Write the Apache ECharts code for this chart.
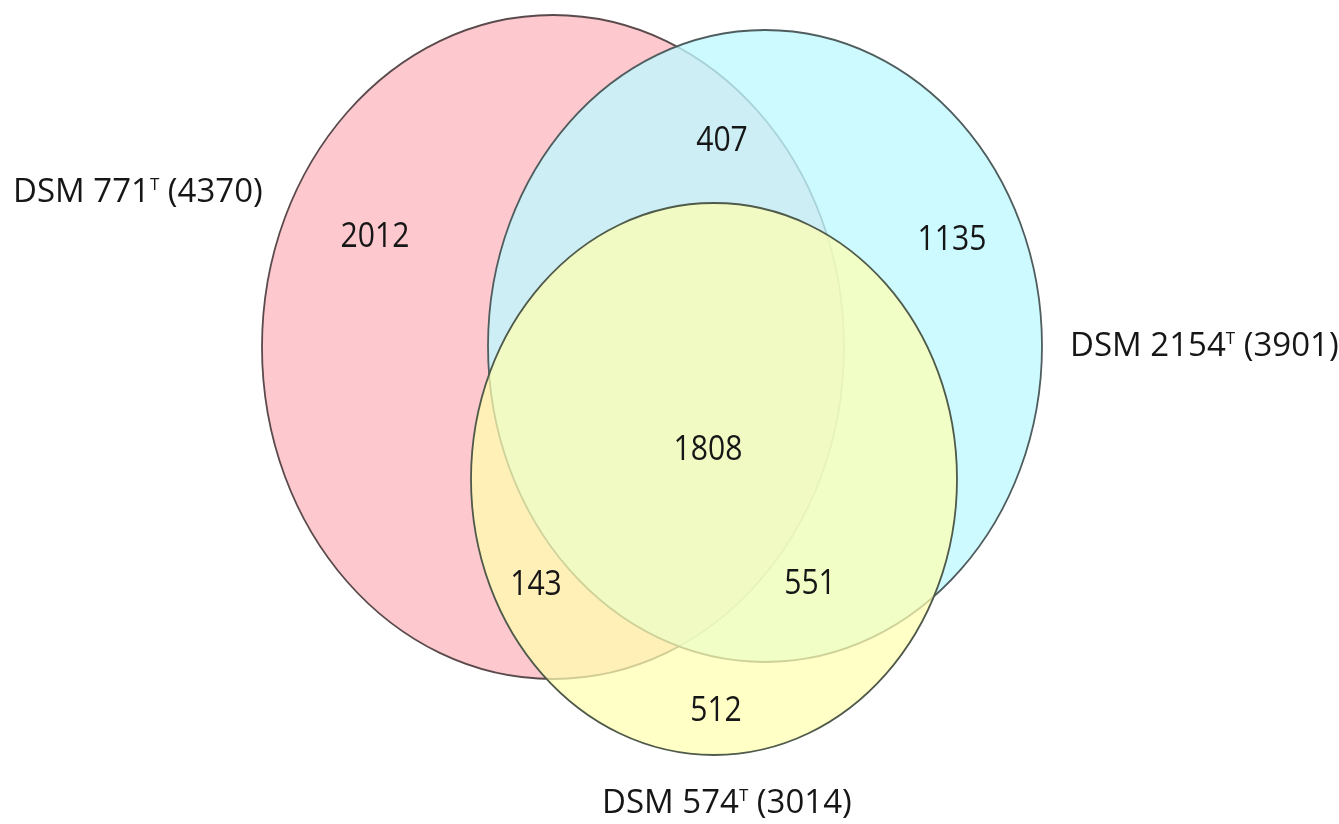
<!DOCTYPE html>
<html>
<head>
<meta charset="utf-8">
<script src="https://cdn.jsdelivr.net/npm/echarts@6/dist/echarts.min.js"></script>
<style>
html,body{margin:0;padding:0;background:#fff;}
#chart{width:1339px;height:824px;}
</style>
</head>
<body>
<div id="chart"></div>
<script>
// ---- data ----
const setNames = ['DSM 771', 'DSM 2154', 'DSM 574'];
const setSuperscripts = ['T', 'T', 'T'];
const setTotals = [4370, 3901, 3014];
const regionNames = ['771 only', '771∩2154', '2154 only', 'all three', '771∩574', '2154∩574', '574 only'];
const regionValues = [2012, 407, 1135, 1808, 143, 551, 512];

// ---- layout (canvas-unit coordinates on hidden axes) ----
const ellipseGeom = [ // cx, cy, rx, ry
  [553, 347, 291, 332],
  [765, 346, 277, 316],
  [714, 479, 243, 276]
];
const ellipseFill = ['rgba(253,200,206,1)', 'rgba(190,249,255,0.78)', 'rgba(255,255,176,0.72)'];
const ellipseStroke = ['#5a4a4c', '#4f5d5e', '#4f5a4a'];
const regionPos = [[375,237],[722,141],[952,240],[708,450],[536,585],[810,584],[716,711]];
const setLabelPos = [[13,193],[1070,347],[602,804]];

const FONT = '"Open Sans", sans-serif';

const chart = echarts.init(document.getElementById('chart'), null, {renderer:'canvas'});
chart.setOption({
  animation: false,
  backgroundColor: '#ffffff',
  grid: {left:0, right:0, top:0, bottom:0},
  xAxis: {type:'value', min:0, max:1339, show:false},
  yAxis: {type:'value', min:0, max:824, inverse:true, show:false},
  series: [
    {
      type: 'custom',
      z: 1,
      data: ellipseGeom.map((g, i) => [g[0], g[1], g[2], g[3], i]),
      renderItem: function (params, api) {
        const i = api.value(4);
        const c = api.coord([api.value(0), api.value(1)]);
        const s = api.size([api.value(2), api.value(3)]);
        return {
          type: 'ellipse',
          z2: i,
          shape: {cx: c[0], cy: c[1], rx: s[0], ry: s[1]},
          style: {fill: ellipseFill[i], stroke: ellipseStroke[i], lineWidth: 1.8}
        };
      }
    },
    {
      type: 'custom',
      z: 3,
      data: regionValues.map((v, i) => ({name: regionNames[i], value: [regionPos[i][0], regionPos[i][1], v]})),
      renderItem: function (params, api) {
        const c = api.coord([api.value(0), api.value(1)]);
        return {
          type: 'text',
          x: c[0], y: c[1],
          scaleX: 0.86,
          style: {
            text: String(api.value(2)),
            align: 'center',
            verticalAlign: 'middle',
            fontFamily: FONT,
            fontSize: 35,
            fill: '#161616'
          }
        };
      }
    },
    {
      type: 'custom',
      z: 4,
      data: setNames.map((n, i) => [setLabelPos[i][0], setLabelPos[i][1], i]),
      renderItem: function (params, api) {
        const i = api.value(2);
        const c = api.coord([api.value(0), api.value(1)]);
        return {
          type: 'text',
          x: c[0], y: c[1],
          style: {
            text: '{a|' + setNames[i] + '}{s|' + setSuperscripts[i] + '}{a| (' + setTotals[i] + ')}',
            align: 'left',
            verticalAlign: 'middle',
            rich: {
              a: {fontFamily: FONT, fontSize: 33, fill: '#161616', color: '#161616'},
              s: {fontFamily: FONT, fontSize: 17, fill: '#161616', color: '#161616', verticalAlign: 'top', padding: [0,0,13,0]}
            }
          }
        };
      }
    }
  ]
});
</script>
</body>
</html>
